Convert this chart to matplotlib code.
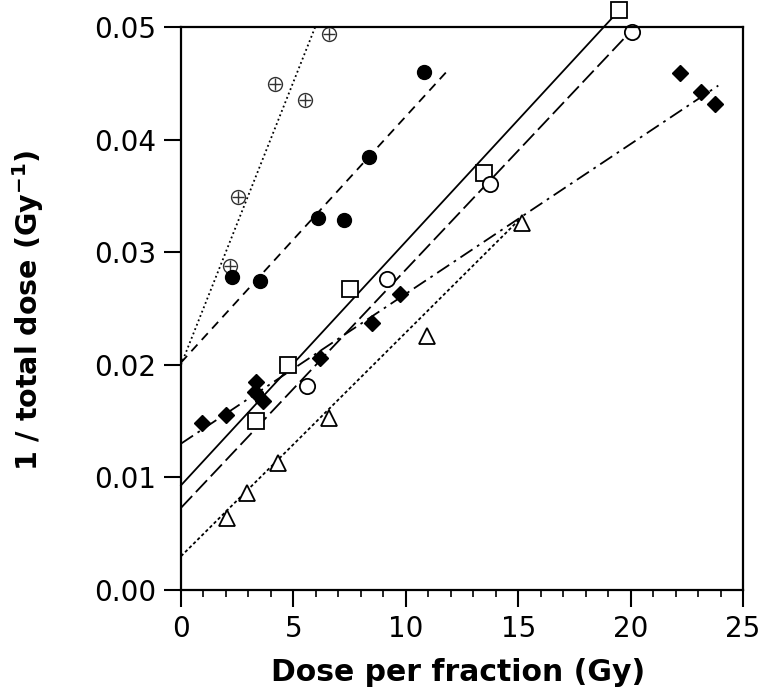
import matplotlib
matplotlib.use("Agg")
import matplotlib.pyplot as plt

# data (dose per fraction in Gy, 1/total dose in Gy^-1)
cross_x = [2.2, 2.55, 4.2, 5.5, 6.6]
cross_y = [0.0288, 0.0349, 0.0449, 0.0435, 0.0494]

fcirc_x = [2.25, 3.5, 6.1, 7.25, 8.35, 10.8]
fcirc_y = [0.0278, 0.0274, 0.0330, 0.0329, 0.0385, 0.0460]

osq_x = [3.35, 4.75, 7.5, 13.5, 19.5]
osq_y = [0.0150, 0.0200, 0.0267, 0.0370, 0.0515]

ocirc_x = [5.6, 9.15, 13.75, 20.05]
ocirc_y = [0.0181, 0.0276, 0.0361, 0.0496]

diam_x = [0.95, 2.0, 3.3, 3.35, 3.65, 6.2, 8.5, 9.75, 22.2, 23.15, 23.75]
diam_y = [0.0148, 0.0155, 0.0176, 0.0185, 0.0168, 0.0206, 0.0237, 0.0263, 0.0459, 0.0442, 0.0432]

tri_x = [2.05, 2.95, 4.3, 6.6, 10.95, 15.15]
tri_y = [0.0064, 0.0086, 0.0113, 0.0153, 0.0226, 0.0326]

# fitted lines, end points
cross_fit_x = [0, 5.97]
cross_fit_y = [0.0200, 0.0500]
fcirc_fit_x = [0, 11.8]
fcirc_fit_y = [0.0202, 0.0460]
osq_fit_x = [0, 19.5]
osq_fit_y = [0.0093, 0.0515]
ocirc_fit_x = [0, 20.0]
ocirc_fit_y = [0.0073, 0.0496]
diam_fit_x = [0, 23.9]
diam_fit_y = [0.0130, 0.0448]
tri_fit_x = [0, 15.1]
tri_fit_y = [0.0030, 0.0330]

xticks = [0, 5, 10, 15, 20, 25]
yticks = [0.00, 0.01, 0.02, 0.03, 0.04, 0.05]

fig = plt.figure(figsize=(7.66, 6.93), dpi=100)
ax = fig.add_axes([0.2363, 0.1486, 0.7337, 0.8124])

lw = 1.3
ax.plot(cross_fit_x, cross_fit_y, color="black", lw=lw, ls=(0, (1, 1.6)))
ax.plot(fcirc_fit_x, fcirc_fit_y, color="black", lw=lw, ls=(0, (5, 3.5)))
ax.plot(osq_fit_x, osq_fit_y, color="black", lw=lw, ls="-", clip_on=False)
ax.plot(ocirc_fit_x, ocirc_fit_y, color="black", lw=lw, ls=(0, (9, 3)))
ax.plot(diam_fit_x, diam_fit_y, color="black", lw=lw, ls=(0, (8, 3, 1.5, 3)))
ax.plot(tri_fit_x, tri_fit_y, color="black", lw=lw, ls=(0, (1.8, 1.4)))

ms = 10
ax.plot(cross_x, cross_y, "o", ms=ms, mfc="white", mec="#333333", mew=1.0, clip_on=False)
ax.plot(cross_x, cross_y, "+", ms=ms - 1, mec="#333333", mew=1.0, clip_on=False)
ax.plot(fcirc_x, fcirc_y, "o", ms=ms, mfc="black", mec="black", clip_on=False)
ax.plot(osq_x, osq_y, "s", ms=ms + 1, mfc="white", mec="black", mew=1.3, clip_on=False)
ax.plot(ocirc_x, ocirc_y, "o", ms=ms + 1, mfc="white", mec="black", mew=1.3, clip_on=False)
ax.plot(diam_x, diam_y, "D", ms=ms - 2, mfc="black", mec="black", clip_on=False)
ax.plot(tri_x, tri_y, "^", ms=ms + 1, mfc="white", mec="black", mew=1.3, clip_on=False)

ax.set_xlim(0, 25)
ax.set_ylim(0, 0.05)
ax.set_xticks(xticks)
ax.set_xticklabels([str(t) for t in xticks])
ax.set_xticks(range(0, 26), minor=True)
ax.set_yticks(yticks)
ax.set_yticklabels(["%.2f" % t for t in yticks])

for s in ax.spines.values():
    s.set_linewidth(1.6)
ax.tick_params(axis="both", which="major", direction="out", length=12, width=1.5,
               labelsize=20, pad=6)
ax.tick_params(axis="x", which="minor", direction="out", length=5, width=1.2)
ax.tick_params(axis="y", which="minor", left=False)

ax.set_xlabel("Dose per fraction (Gy)", fontsize=21.5, fontweight="bold", va="center")
ax.xaxis.set_label_coords(0.493, -0.146)
ax.set_ylabel("1 / total dose (Gy$^{\\mathregular{-1}}$)", fontsize=20.5,
              fontweight="bold", va="center")
ax.yaxis.set_label_coords(-0.272, 0.496)

fig.savefig("out.png", dpi=100)
